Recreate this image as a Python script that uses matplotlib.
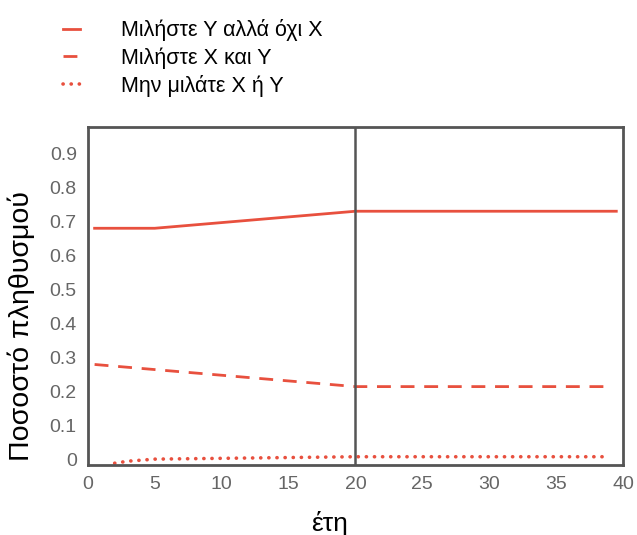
import matplotlib
matplotlib.use("Agg")
import matplotlib.pyplot as plt

x_solid = [0.5, 5, 20, 39.5]
y_solid = [0.68, 0.68, 0.73, 0.73]
x_dash = [0.5, 5, 20, 39.2]
y_dash = [0.28, 0.265, 0.215, 0.215]
x_dot = [2, 3, 5, 20, 38.9]
y_dot = [-0.01, -0.004, 0.002, 0.009, 0.009]
labels = ["Μιλήστε Y αλλά όχι X", "Μιλήστε X και Y", "Μην μιλάτε X ή Y"]
xticks = [0, 5, 10, 15, 20, 25, 30, 35, 40]
yticks = [0, 0.1, 0.2, 0.3, 0.4, 0.5, 0.6, 0.7, 0.8, 0.9]
ytick_labels = ["0", "0.1", "0.2", "0.3", "0.4", "0.5", "0.6", "0.7", "0.8", "0.9"]

plt.rcParams['font.family'] = ['Liberation Sans', 'DejaVu Sans']
red = "#E8503E"
gray = "#555555"

fig = plt.figure(figsize=(6.37, 5.35), dpi=100)
ax = fig.add_axes([0.138, 0.131, 0.840, 0.632])
l1, = ax.plot(x_solid, y_solid, color=red, lw=2, ls="-")
l2, = ax.plot(x_dash, y_dash, color=red, lw=2, ls=(0, (5, 3.5)))
l3, = ax.plot(x_dot, y_dot, color=red, lw=2.6, ls=(0, (0.05, 2.2)), dash_capstyle="round")
ax.axvline(20, color=gray, lw=1.8)

ax.set_xlim(0, 40)
ax.set_ylim(-0.015, 0.978)
ax.set_xticks(xticks)
ax.set_yticks(yticks)
ax.set_yticklabels(ytick_labels)
ax.tick_params(length=0, labelsize=14, labelcolor="#666666", pad=8)
for s in ax.spines.values():
    s.set_color(gray)
    s.set_linewidth(2)
ax.set_xlabel("έτη", fontsize=19)
ax.set_ylabel("Ποσοστό πληθυσμού", fontsize=20.5)
ax.xaxis.set_label_coords(0.452, -0.135)
ax.yaxis.set_label_coords(-0.098, 0.41)

fig.legend([l1, l2, l3], labels, loc="upper left", bbox_to_anchor=(0.068, 1.0),
           frameon=False, fontsize=15.5, handlelength=0.8, handletextpad=1.9,
           labelspacing=0.28)
fig.savefig("out.png", dpi=100)
